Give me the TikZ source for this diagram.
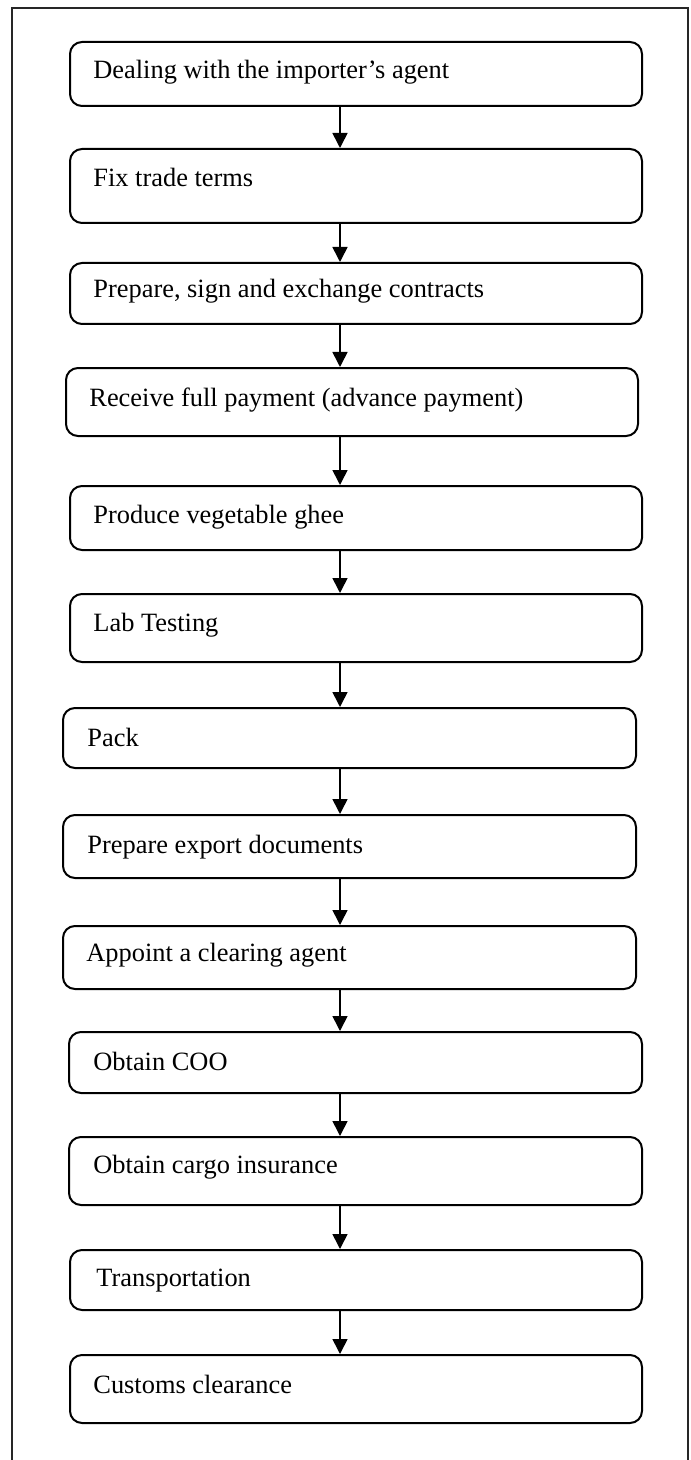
\documentclass[tikz,border=0pt]{standalone}
\usepackage{fontspec}
\setmainfont{Liberation Serif}
\usetikzlibrary{arrows.meta,fit}

\begin{document}
\begin{tikzpicture}[
  x=0.5pt, y=-0.5pt,
  frame/.style={draw=black!85, line width=0.8pt},
  stepbox/.style={draw, line width=1pt, rounded corners=6pt, inner sep=0pt},
  steptext/.style={anchor=base west, inner sep=0pt, font=\fontsize{13.2}{15}\selectfont},
  flow/.style={line width=0.8pt, -{Triangle[length=7.5pt,width=7.5pt]}}
]
\useasboundingbox (0,0) rectangle (690,1460);

% open frame around the chart
\draw[frame] (12,1462) -- (12,8) -- (688,8) -- (688,1462);

% process steps
\node[stepbox, fit={(70,42) (642,106)}]   (b1)  {};
\node[stepbox, fit={(70,149) (642,223)}]  (b2)  {};
\node[stepbox, fit={(70,263) (642,324)}]  (b3)  {};
\node[stepbox, fit={(66,368) (638,436)}]  (b4)  {};
\node[stepbox, fit={(70,486) (642,550)}]  (b5)  {};
\node[stepbox, fit={(70,594) (642,662)}]  (b6)  {};
\node[stepbox, fit={(63,708) (636,768)}]  (b7)  {};
\node[stepbox, fit={(63,815) (636,878)}]  (b8)  {};
\node[stepbox, fit={(63,926) (636,989)}]  (b9)  {};
\node[stepbox, fit={(69,1032) (642,1093)}] (b10) {};
\node[stepbox, fit={(69,1137) (642,1205)}] (b11) {};
\node[stepbox, fit={(70,1250) (642,1310)}] (b12) {};
\node[stepbox, fit={(70,1355) (642,1423)}] (b13) {};

% step labels
\node[steptext] (t1)  at (93,79)    {Dealing with the importer’s agent};
\node[steptext] (t2)  at (93,187)   {Fix trade terms};
\node[steptext] (t3)  at (93,298)   {Prepare, sign and exchange contracts};
\node[steptext] (t4)  at (89,406)   {Receive full payment (advance payment)};
\node[steptext] (t5)  at (93,523)   {Produce vegetable ghee};
\node[steptext] (t6)  at (93,631)   {Lab Testing};
\node[steptext] (t7)  at (87,746)   {Pack};
\node[steptext] (t8)  at (87,853)   {Prepare export documents};
\node[steptext] (t9)  at (86,961)   {Appoint a clearing agent};
\node[steptext] (t10) at (93,1070)  {Obtain COO};
\node[steptext] (t11) at (93,1173)  {Obtain cargo insurance};
\node[steptext] (t12) at (96,1286)  {Transportation};
\node[steptext] (t13) at (93,1393)  {Customs clearance};

% connectors
\coordinate (ax) at (340,0);
\foreach \a/\b in {b1/b2,b2/b3,b3/b4,b4/b5,b5/b6,b6/b7,b7/b8,b8/b9,b9/b10,b10/b11,b11/b12,b12/b13}
  \draw[flow] (\a.south -| ax) -- (\b.north -| ax);
\end{tikzpicture}
\end{document}
